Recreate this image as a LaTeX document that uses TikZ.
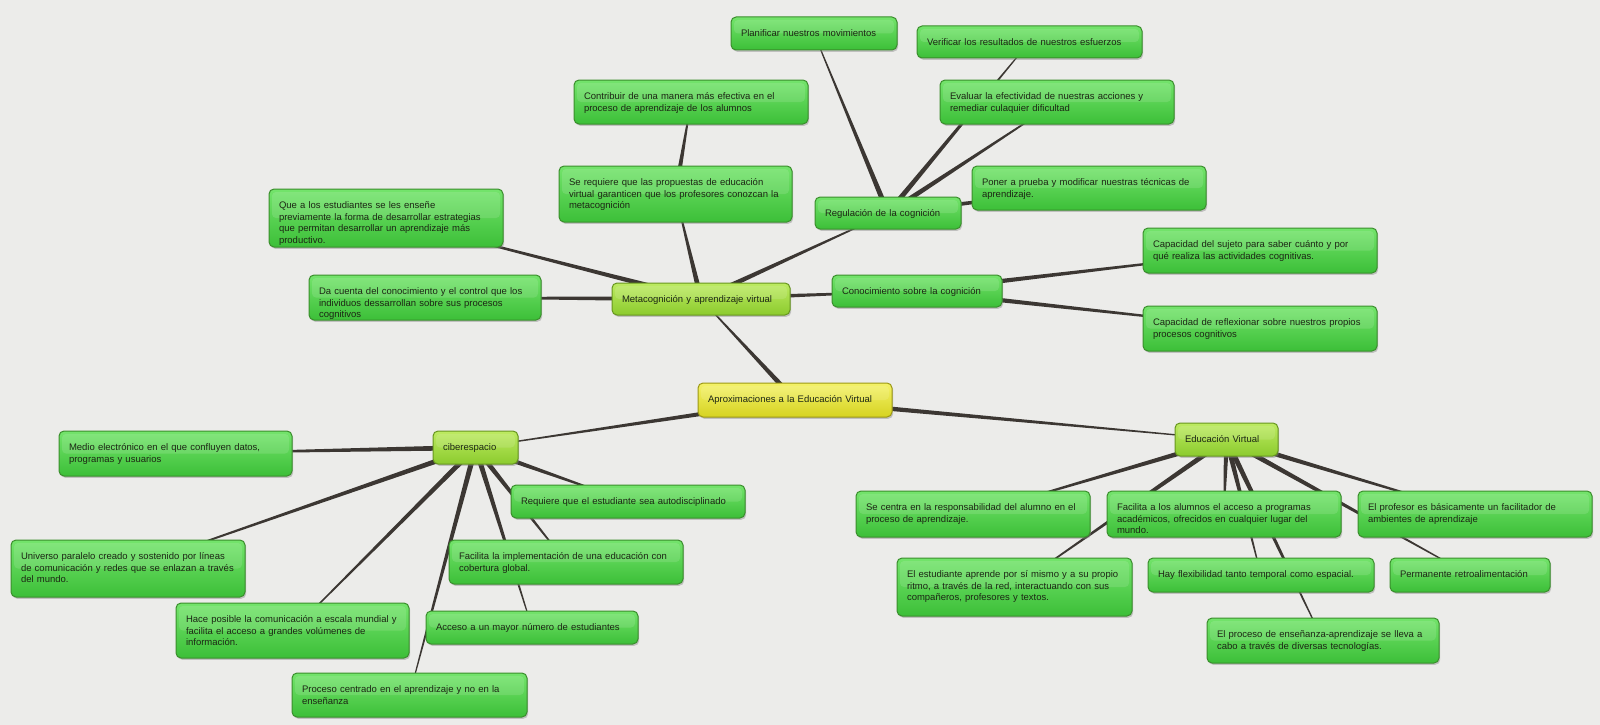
\documentclass[tikz,border=0pt]{standalone}
\usepackage{fontspec}
\setmainfont{Liberation Sans}
\usetikzlibrary{calc, shadows}

\definecolor{bgpaper}{HTML}{ECECEA}
\definecolor{linkcol}{HTML}{3C3733}
\definecolor{leaftop}{HTML}{74E46C}
\definecolor{leafbot}{HTML}{3CBF38}
\definecolor{leafline}{HTML}{3A8E2C}
\definecolor{limetop}{HTML}{BDEB62}
\definecolor{limebot}{HTML}{8CCB2E}
\definecolor{limeline}{HTML}{67961F}
\definecolor{roottop}{HTML}{F4F268}
\definecolor{rootbot}{HTML}{D6D322}
\definecolor{rootline}{HTML}{9C9814}
\definecolor{inktext}{HTML}{1C2614}

\pgfdeclarelayer{paper}
\pgfdeclarelayer{links}
\pgfsetlayers{paper,links,main}

\begin{document}
\begin{tikzpicture}[x=1pt, y=-1pt,
  every node/.style={font=\fontsize{9.5}{11.7}\selectfont, text=inktext},
  concept/.style={rounded corners=5pt, line width=1pt, align=left,
    inner xsep=10pt, inner ysep=0pt, text height=19.5pt,
    drop shadow={shadow xshift=1.2pt, shadow yshift=-1.8pt, opacity=.4},
    path picture={\fill[white, opacity=.12, rounded corners=4pt]
      ($(path picture bounding box.north west)+(3pt,-3pt)$) rectangle
      ($(path picture bounding box.east)+(-3pt,0pt)$);}},
  leaf/.style={concept, draw=leafline, top color=leaftop, bottom color=leafbot},
  branch/.style={concept, draw=limeline, top color=limetop, bottom color=limebot},
  root/.style={concept, draw=rootline, top color=roottop, bottom color=rootbot},
  sz/.style 2 args={text width=#1-20, text depth=#2-19.5},
  link/.style={fill=linkcol}]

\useasboundingbox (0,0) rectangle (1600,725);
\begin{pgfonlayer}{paper}
\fill[bgpaper] (0,0) rectangle (1600,725);
\end{pgfonlayer}

% centre and main branches
\node[root, sz={194}{34}] (aprox) at (795,400) {Aproximaciones a la Educación Virtual};
\node[branch, sz={178}{32}] (meta) at (701,299) {Metacognición y aprendizaje virtual};
\node[branch, sz={85}{33}] (ciber) at (475.5,447.5) {ciberespacio};
\node[branch, sz={103}{33}] (ev) at (1226.5,439.5) {Educación Virtual};

% metacognición
\node[leaf, sz={234}{58}] (quea) at (386,218) {Que a los estudiantes se les enseñe\\previamente la forma de desarrollar estrategias\\que permitan desarrollar un aprendizaje más\\productivo.};
\node[leaf, sz={232}{45}] (dacuenta) at (425,297.5) {Da cuenta del conocimiento y el control que los\\individuos dessarrollan sobre sus procesos\\cognitivos};
\node[leaf, sz={233}{56}] (sereq) at (675.5,194) {Se requiere que las propuestas de educación\\virtual garanticen que los profesores conozcan la\\metacognición};
\node[leaf, sz={234}{44}] (contrib) at (691,102) {Contribuir de una manera más efectiva en el\\proceso de aprendizaje de los alumnos};
\node[leaf, sz={146}{32}] (regul) at (888,213) {Regulación de la cognición};
\node[leaf, sz={170}{32}] (conoc) at (917,291) {Conocimiento sobre la cognición};
\node[leaf, sz={166}{33}] (plan) at (814,33.5) {Planificar nuestros movimientos};
\node[leaf, sz={225}{32}] (verif) at (1029.5,42) {Verificar los resultados de nuestros esfuerzos};
\node[leaf, sz={234}{44}] (evaluar) at (1057,102) {Evaluar la efectividad de nuestras acciones y\\remediar culaquier dificultad};
\node[leaf, sz={234}{44}] (poner) at (1089,188) {Poner a prueba y modificar nuestras técnicas de\\aprendizaje.};
\node[leaf, sz={234}{45}] (capsujeto) at (1260,250.5) {Capacidad del sujeto para saber cuánto y por\\qué realiza las actividades cognitivas.};
\node[leaf, sz={234}{45}] (capreflex) at (1260,328.5) {Capacidad de reflexionar sobre nuestros propios\\procesos cognitivos};

% ciberespacio
\node[leaf, sz={233}{45}] (medio) at (175.5,453.5) {Medio electrónico en el que confluyen datos,\\programas y usuarios};
\node[leaf, sz={234}{33}] (autodisc) at (628,501.5) {Requiere que el estudiante sea autodisciplinado};
\node[leaf, sz={234}{57}] (universo) at (128,568.5) {Universo paralelo creado y sostenido por líneas\\de comunicación y redes que se enlazan a través\\del mundo.};
\node[leaf, sz={234}{44}] (cobertura) at (566,562) {Facilita la implementación de una educación con\\cobertura global.};
\node[leaf, sz={233}{55}] (escala) at (292.5,630.5) {Hace posible la comunicación a escala mundial y\\facilita el acceso a grandes volúmenes de\\información.};
\node[leaf, sz={212}{33}] (acceso) at (532,627.5) {Acceso a un mayor número de estudiantes};
\node[leaf, sz={235}{44}] (centrado) at (409.5,695) {Proceso centrado en el aprendizaje y no en la\\enseñanza};

% educación virtual
\node[leaf, sz={234}{46}] (responsab) at (973,514) {Se centra en la responsabilidad del alumno en el\\proceso de aprendizaje.};
\node[leaf, sz={234}{46}] (programas) at (1224,514) {Facilita a los alumnos el acceso a programas\\académicos, ofrecidos en cualquier lugar del\\mundo.};
\node[leaf, sz={234}{46}] (profesor) at (1475,514) {El profesor es básicamente un facilitador de\\ambientes de aprendizaje};
\node[leaf, sz={235}{58}] (ritmo) at (1014.5,587) {El estudiante aprende por sí mismo y a su propio\\ritmo, a través de la red, interactuando con sus\\compañeros, profesores y textos.};
\node[leaf, sz={226}{34}] (flexib) at (1261,575) {Hay flexibilidad tanto temporal como espacial.};
\node[leaf, sz={160}{34}] (retro) at (1470,575) {Permanente retroalimentación};
\node[leaf, sz={232}{45}] (tecnolog) at (1323,640.5) {El proceso de enseñanza-aprendizaje se lleva a\\cabo a través de diversas tecnologías.};

% tapered connectors, thick at the parent
\begin{pgfonlayer}{links}
\foreach \p/\c in {aprox/meta, aprox/ciber, aprox/ev,
    meta/quea, meta/dacuenta, meta/sereq, meta/regul, meta/conoc, sereq/contrib,
    regul/plan, regul/verif, regul/evaluar, regul/poner,
    conoc/capsujeto, conoc/capreflex,
    ciber/medio, ciber/universo, ciber/escala, ciber/centrado, ciber/acceso,
    ciber/cobertura, ciber/autodisc,
    ev/responsab, ev/programas, ev/ritmo, ev/flexib, ev/tecnolog, ev/profesor, ev/retro}
  \fill[link] ($(\p)!2.7pt!90:(\c)$) -- ($(\c)!0.4pt!-90:(\p)$)
    -- ($(\c)!0.4pt!90:(\p)$) -- ($(\p)!2.7pt!-90:(\c)$) -- cycle;
\end{pgfonlayer}
\end{tikzpicture}
\end{document}
